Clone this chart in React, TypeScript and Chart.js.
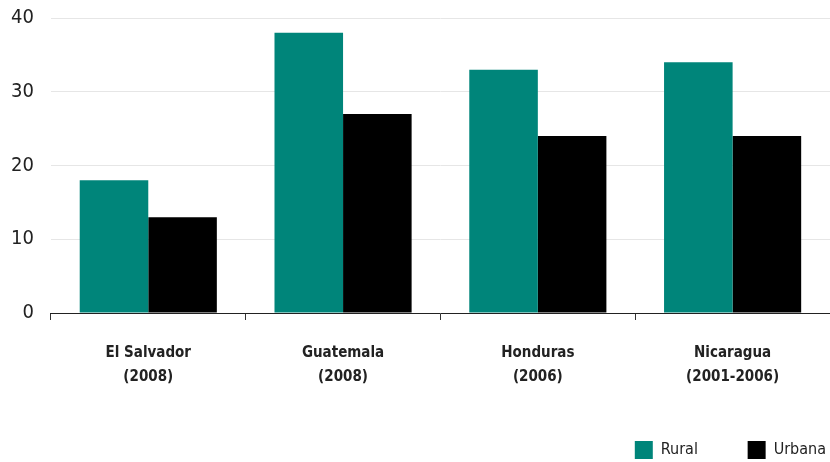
import React, { useEffect, useRef } from "react";
import { Chart, registerables } from "chart.js";

Chart.register(...registerables);

const categories: string[][] = [
  ["El Salvador", "(2008)"],
  ["Guatemala", "(2008)"],
  ["Honduras", "(2006)"],
  ["Nicaragua", "(2001-2006)"],
];
const rural = [18, 38, 33, 34];
const urbana = [13, 27, 24, 24];
const yTicks = [0, 10, 20, 30, 40];
const seriesNames = ["Rural", "Urbana"];

const FONT = "'DejaVu Sans Condensed', 'Liberation Sans Narrow', sans-serif";

export default function App() {
  const ref = useRef<HTMLCanvasElement>(null);
  useEffect(() => {
    document.body.style.margin = "0";
    const chart = new Chart(ref.current!, {
      type: "bar",
      data: {
        labels: categories,
        datasets: [
          { label: seriesNames[0], data: rural, backgroundColor: "#00857a", categoryPercentage: 0.704, barPercentage: 1 },
          { label: seriesNames[1], data: urbana, backgroundColor: "#000000", categoryPercentage: 0.704, barPercentage: 1 },
        ],
      },
      options: {
        animation: false,
        responsive: false,
        maintainAspectRatio: false,
        layout: { padding: { left: -6, right: 0, top: 18, bottom: -7 } },
        plugins: {
          tooltip: { enabled: false },
          legend: {
            position: "bottom",
            align: "end",
            labels: {
              boxWidth: 18,
              boxHeight: 18,
              padding: 4,
              color: "#222",
              font: { family: FONT, size: 16 },
              generateLabels: (c: any) => {
                const items = Chart.defaults.plugins.legend.labels.generateLabels(c);
                return items.map((it: any, i: number) => ({
                  ...it,
                  text: i === 0 ? it.text + "          " : it.text,
                  lineWidth: 0,
                }));
              },
            },
          },
        },
        scales: {
          x: {
            grid: {
              offset: true,
              drawOnChartArea: false,
              drawTicks: true,
              tickLength: 7,
              color: "#333",
            },
            border: { display: true, color: "#222", width: 1 },
            ticks: {
              color: "#222",
              padding: 21,
              font: { family: FONT, size: 15, weight: "bold", lineHeight: 1.6 },
              maxRotation: 0,
            },
            afterFit: (axis: any) => {
              axis.height += 27;
            },
          },
          y: {
            min: 0,
            max: 40,
            afterBuildTicks: (axis: any) => {
              axis.ticks = yTicks.map((v) => ({ value: v }));
            },
            afterFit: (axis: any) => {
              axis.paddingTop = 0;
              axis.paddingBottom = 0;
            },
            grid: { color: "#e6e6e6", drawTicks: false, lineWidth: 1 },
            border: { display: false },
            ticks: {
              color: "#222",
              padding: 17,
              font: { family: FONT, size: 20 },
            },
          },
        },
      },
    });
    return () => chart.destroy();
  }, []);
  return (
    <div style={{ width: 830, height: 462 }}>
      <canvas ref={ref} width={830} height={462} style={{ display: "block" }} />
    </div>
  );
}
